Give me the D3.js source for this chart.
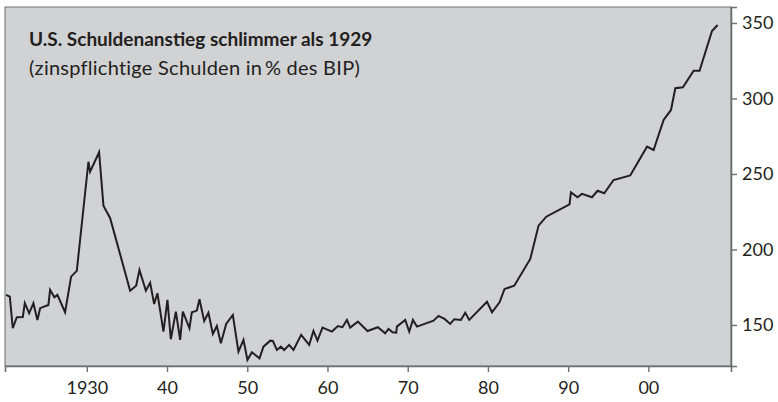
<!DOCTYPE html>
<html>
<head>
<meta charset="utf-8">
<script src="https://cdn.jsdelivr.net/npm/d3@7"></script>
<style>
    body { margin: 0; background: #ffffff; }
    svg { display: block; font-family: Lato, "Open Sans", sans-serif; }
</style>
</head>
<body>
<svg id="chart" width="778" height="402"></svg>
<script>
// Jahre (Dezimaljahr) und Schulden in % des BIP
const years = [
    1919.94, 1920.40, 1920.77, 1921.27, 1922.02, 1922.27, 1922.81, 1923.34, 1923.84, 1924.18,
    1925.21, 1925.42, 1925.96, 1926.33, 1927.29, 1928.04, 1928.75, 1930.20, 1930.41, 1931.53,
    1932.07, 1932.91, 1935.40, 1936.15, 1936.56, 1937.36, 1937.89, 1938.39, 1938.80, 1939.55,
    1940.05, 1940.47, 1941.10, 1941.63, 1941.97, 1942.79, 1943.09, 1943.72, 1944.04, 1944.63,
    1945.16, 1945.71, 1946.21, 1946.71, 1947.37, 1948.20, 1948.90, 1949.53, 1950.02, 1950.57,
    1951.52, 1952.02, 1952.86, 1953.19, 1953.69, 1954.19, 1954.60, 1955.22, 1955.76, 1956.72,
    1957.72, 1958.25, 1958.75, 1959.38, 1960.55, 1961.30, 1961.87, 1962.42, 1962.83, 1963.79,
    1964.99, 1966.28, 1967.19, 1967.61, 1968.11, 1968.57, 1968.65, 1969.69, 1970.19, 1970.65,
    1971.15, 1973.22, 1973.84, 1974.59, 1975.30, 1975.80, 1976.63, 1977.17, 1977.67, 1979.88,
    1980.50, 1981.45, 1982.07, 1983.28, 1985.28, 1986.31, 1987.27, 1990.17, 1990.35, 1991.17,
    1991.72, 1992.97, 1993.67, 1994.50, 1995.66, 1997.74, 1999.83, 2000.65, 2001.90, 2002.82,
    2003.36, 2004.31, 2005.64, 2006.38, 2007.93, 2008.63
];

const debtShare = [
    169.9, 168.7, 147.8, 155.1, 155.3, 164.4, 157.7, 164.4, 153.3, 161.1,
    163.2, 173.2, 168.3, 169.9, 158.4, 182.0, 185.8, 258.1, 251.5, 264.4,
    229.0, 220.7, 172.7, 176.0, 186.4, 172.7, 178.0, 163.9, 171.0, 145.6,
    166.6, 140.5, 158.8, 140.1, 158.8, 147.8, 158.4, 159.5, 167.0, 152.6,
    158.1, 144.0, 149.3, 137.9, 150.7, 156.6, 132.3, 140.1, 126.8, 131.9,
    127.9, 135.6, 139.6, 139.4, 133.4, 135.6, 133.4, 136.8, 133.4, 143.4,
    136.8, 146.0, 139.6, 148.2, 145.6, 149.3, 148.5, 153.3, 148.2, 152.2,
    146.0, 148.5, 144.5, 147.4, 145.2, 144.9, 148.9, 153.3, 145.6, 153.3,
    148.9, 152.8, 156.0, 154.0, 150.7, 153.8, 153.3, 158.1, 153.3, 165.4,
    158.4, 165.0, 173.8, 176.0, 193.7, 215.8, 221.7, 229.9, 237.9, 234.6,
    236.8, 234.6, 238.9, 237.2, 246.0, 249.0, 268.1, 265.9, 285.8, 292.4,
    306.8, 307.4, 318.4, 318.4, 344.7, 348.7
];

const xTickValues = [1930, 1940, 1950, 1960, 1970, 1980, 1990, 2000];
const xTickLabels = ["1930", "40", "50", "60", "70", "80", "90", "00"];
const yTickValues = [150, 200, 250, 300, 350];

const titleText = "U.S. Schuldenanstieg schlimmer als 1929";
const subtitleText = "(zinspflichtige Schulden in\u2009% des BIP)";

const svg = d3.select("#chart");

const plot = { left: 5, top: 7, right: 731, bottom: 366 };

const x = d3.scaleLinear()
    .domain([1919.8, 2010.3])
    .range([plot.left, plot.right]);

const y = d3.scaleLinear()
    .domain([122.8, 360.6])
    .range([plot.bottom, plot.top]);

// grauer Hintergrund
svg.append("rect")
    .attr("x", plot.left)
    .attr("y", plot.top)
    .attr("width", plot.right - plot.left)
    .attr("height", plot.bottom - plot.top)
    .attr("fill", "#d1d2d4")
    .attr("stroke", "#6d6e71")
    .attr("stroke-width", 1);

// Achse unten
const xAxis = d3.axisBottom(x)
    .tickValues(xTickValues)
    .tickSize(6)
    .tickPadding(9)
    .tickFormat(function(d, i) { return xTickLabels[i]; });

const xAxisGroup = svg.append("g")
    .attr("transform", "translate(0," + plot.bottom + ")")
    .call(xAxis);

// Achse rechts
const yAxis = d3.axisRight(y)
    .tickValues(yTickValues)
    .tickSize(6)
    .tickPadding(5);

const yAxisGroup = svg.append("g")
    .attr("transform", "translate(" + plot.right + ",0)")
    .call(yAxis);

[xAxisGroup, yAxisGroup].forEach(function(g) {
    g.select(".domain").attr("stroke", "#6d6e71").attr("stroke-width", 1.6);
    g.selectAll(".tick line").attr("stroke", "#6d6e71").attr("stroke-width", 1.4);
    g.selectAll(".tick text")
        .attr("fill", "#231f20")
        .style("font-family", "Lato, sans-serif")
        .style("font-size", "18px");
});

// Linie
const line = d3.line()
    .x(function(d) { return x(d[0]); })
    .y(function(d) { return y(d[1]); });

svg.append("path")
    .datum(d3.zip(years, debtShare))
    .attr("fill", "none")
    .attr("stroke", "#231f20")
    .attr("stroke-width", 2)
    .attr("stroke-linejoin", "miter")
    .attr("d", line);

// Titel
svg.append("text")
    .attr("x", 29)
    .attr("y", 46)
    .attr("fill", "#231f20")
    .style("font-size", "19px")
    .style("font-weight", "bold")
    .text(titleText);

svg.append("text")
    .attr("x", 29)
    .attr("y", 75)
    .attr("fill", "#231f20")
    .style("font-size", "20px")
    .style("letter-spacing", "0.25px")
    .text(subtitleText);
</script>
</body>
</html>
